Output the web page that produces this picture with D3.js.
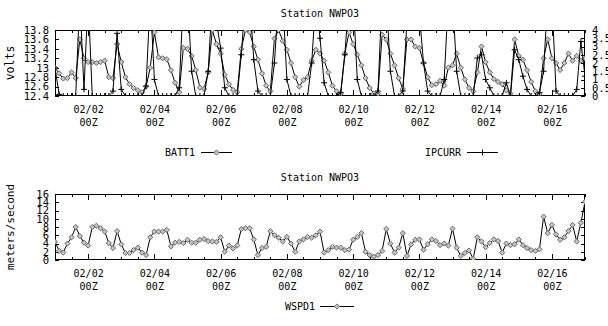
<!DOCTYPE html>
<html>
<head>
<meta charset="utf-8">
<script src="https://cdn.jsdelivr.net/npm/d3@7"></script>
<style>
  body { margin: 0; background: #fff; }
  svg text { font-family: "DejaVu Sans Mono", monospace; font-size: 10px; fill: #000; }
</style>
</head>
<body>
<div id="chart"></div>
<script>
// samples every 3 hours, starting 02/01 00Z
const startTime = Date.UTC(2006, 1, 1, 0);
const stepHours = 3;

const batt1 = [
  13.0, 12.88, 12.77, 12.78, 12.9, 12.78, 13.6, 13.2, 13.12, 13.12, 13.1, 13.12, 13.15, 12.8, 12.78, 13.5,
  13.12, 12.8, 12.65, 12.57, 12.52, 12.48, 12.6, 13.0, 13.75, 13.22, 13.2, 13.18, 12.95, 12.68, 12.48, 13.42,
  13.4, 13.25, 12.95, 12.58, 12.55, 12.9, 13.8, 13.5, 13.3, 12.85, 12.65, 12.53, 12.48, 13.4, 13.8, 13.75,
  13.45, 13.17, 12.88, 12.62, 12.5, 13.62, 13.8, 13.57, 13.38, 13.1, 12.8, 12.6, 12.74, 12.8, 13.15, 13.38,
  13.3, 13.15, 12.9, 12.62, 12.5, 12.45, 13.3, 13.75, 13.5, 13.28, 13.05, 12.78, 12.57, 12.45, 12.45, 13.7,
  13.6, 13.3, 13.05, 12.78, 12.55, 13.6, 13.6, 13.45, 13.42, 13.1, 12.8, 12.63, 12.65, 12.72, 12.62, 13.0,
  13.05, 13.3, 13.0, 12.75, 12.57, 12.5, 12.9, 13.45, 13.12, 12.9, 12.76, 12.7, 12.65, 12.52, 12.45, 13.6,
  13.25, 13.17, 12.95, 12.7, 12.5, 12.45, 13.2, 13.6, 13.2, 13.1, 12.95, 13.1, 13.3, 13.15, 13.25, 13.15,
  13.2
];

const ipcurr = [
  1.7, 0.1, 0, 0, 0, 0, 6, 0.4, 6, 0, 0, 0, 0, 0, 0.3, 3.8,
  0.4, 0, 0, 0, 0, 0, 0.6, 6, 1.0, 0, 0, 0, 0, 0, 0.5, 6,
  6, 1.5, 0, 0, 0, 1.5, 6, 4.5, 2.9, 0.5, 0, 0, 0, 2.5, 6, 6,
  2.2, 0.3, 0, 0, 0, 2.0, 6, 6, 1.0, 0, 0, 0, 0, 0, 2.0, 6,
  3.5, 0.8, 0, 0, 0, 0.2, 2.5, 6, 6, 1.0, 0, 0, 0, 0, 0.3, 6,
  6, 1.5, 0, 0, 0.3, 4.5, 6, 6, 5, 2.0, 0.3, 0, 0, 0, 1.0, 6,
  6, 1.5, 0, 0, 0, 0, 2.3, 2.5, 1.0, 0.5, 0, 0, 0, 0.8, 0, 2.8,
  2.2, 1.2, 0.4, 0, 0, 0.2, 1.5, 6, 6, 0.3, 0, 0, 0, 0, 0.4, 3.3,
  1.2
];

const wspd1 = [
  4.4, 2.2, 1.8, 4.0, 5.5, 8.0, 5.8, 4.2, 3.5, 8.0, 8.3, 7.7, 6.9, 4.1, 2.9, 7.0,
  3.8, 1.7, 1.7, 2.4, 3.0, 1.8, 1.2, 5.5, 6.9, 6.9, 6.9, 7.3, 3.3, 4.2, 4.4, 4.1,
  4.9, 4.2, 4.2, 4.9, 5.1, 4.6, 4.5, 4.4, 5.5, 2.0, 3.5, 2.8, 3.5, 7.5, 7.7, 7.7,
  5.0, 1.2, 2.9, 3.2, 7.0, 6.0, 5.4, 4.5, 5.6, 4.0, 2.0, 4.5, 5.0, 5.6, 5.4, 6.0,
  6.9, 1.8, 2.4, 3.2, 3.0, 3.0, 2.4, 2.5, 4.9, 5.6, 6.5, 2.0, 1.2, 0.8, 1.2, 2.2,
  7.5, 4.0, 1.8, 3.0, 6.5, 1.0, 3.8, 4.9, 5.0, 2.5, 3.8, 5.0, 4.6, 3.6, 4.0, 3.5,
  7.6, 3.0, 1.0, 1.7, 2.3, 0.3, 5.5, 4.5, 3.1, 4.1, 5.0, 4.6, 1.8, 4.0, 3.6, 3.8,
  5.0, 3.6, 2.9, 2.4, 2.2, 2.6, 10.5, 6.5, 8.5, 6.2, 4.9, 5.5, 7.0, 8.5, 4.5, 9.0,
  14.1
];

const voltTicks = [12.4, 12.6, 12.8, 13, 13.2, 13.4, 13.6, 13.8];
const ampTicks = [0, 0.5, 1, 1.5, 2, 2.5, 3, 3.5, 4];
const windTicks = [0, 2, 4, 6, 8, 10, 12, 14, 16];
const dayLabels = ['02/02', '02/04', '02/06', '02/08', '02/10', '02/12', '02/14', '02/16'];

const W = 608, H = 326;
const left = 55, right = 585;

const svg = d3.select('#chart').append('svg')
  .attr('width', W)
  .attr('height', H)
  .attr('viewBox', `0 0 ${W} ${H}`);

const times = batt1.map((_, i) => new Date(startTime + i * stepHours * 3600e3));

const x = d3.scaleUtc()
  .domain([new Date(Date.UTC(2006, 1, 1)), new Date(Date.UTC(2006, 1, 17))])
  .range([left, right]);

const majorDates = dayLabels.map((d) => {
  const [m, day] = d.split('/').map(Number);
  return new Date(Date.UTC(2006, m - 1, day));
});

const diamond = 'M0,-2.6L2.6,0L0,2.6L-2.6,0Z';
const plus = 'M-3,0H3M0,-3V3';

// draws frame, time ticks and the title for one panel
const drawPanel = (top, bottom, title, id) => {
  const g = svg.append('g');

  svg.append('clipPath').attr('id', id)
    .append('rect')
    .attr('x', left).attr('y', top)
    .attr('width', right - left).attr('height', bottom - top);

  // minor ticks, every 12 hours
  g.append('g').attr('transform', `translate(0,${bottom})`)
    .call(d3.axisBottom(x).ticks(d3.utcHour.every(12)).tickSize(-3).tickFormat(''));
  g.append('g').attr('transform', `translate(0,${top})`)
    .call(d3.axisTop(x).ticks(d3.utcHour.every(12)).tickSize(-3).tickFormat(''));

  // major ticks with two line labels
  const xb = g.append('g').attr('transform', `translate(0,${bottom})`)
    .call(d3.axisBottom(x).tickValues(majorDates).tickSize(-6).tickPadding(8)
      .tickFormat((d, i) => dayLabels[i]));
  xb.selectAll('.tick text').each(function (d, i) {
    const t = d3.select(this).text(null).attr('dy', null).attr('y', 17);
    t.append('tspan').attr('x', 0).text(dayLabels[i]);
    t.append('tspan').attr('x', 0).attr('dy', 13).text('00Z');
  });
  g.append('g').attr('transform', `translate(0,${top})`)
    .call(d3.axisTop(x).tickValues(majorDates).tickSize(-6).tickFormat(''));

  g.selectAll('.domain').remove();
  g.selectAll('.tick line').attr('stroke', '#000').attr('shape-rendering', 'crispEdges');

  svg.append('rect')
    .attr('x', left + 0.5).attr('y', top + 0.5)
    .attr('width', right - left - 1).attr('height', bottom - top - 1)
    .attr('fill', 'none').attr('stroke', '#000')
    .attr('shape-rendering', 'crispEdges');

  svg.append('text')
    .attr('x', (left + right) / 2).attr('y', top - 13)
    .attr('text-anchor', 'middle')
    .text(title);
};

const yAxisStyle = (sel) => {
  sel.select('.domain').remove();
  sel.selectAll('.tick line').attr('stroke', '#000').attr('shape-rendering', 'crispEdges');
  sel.selectAll('.tick text').style('font-family', '"DejaVu Sans Mono", monospace').style('font-size', '10.5px');
};

const drawSeries = (values, y, clipId, marker, markerStyle) => {
  const g = svg.append('g').attr('clip-path', `url(#${clipId})`);
  const pts = values.map((v, i) => [times[i], v]);
  g.append('path')
    .datum(pts)
    .attr('fill', 'none')
    .attr('stroke', '#000')
    .attr('stroke-width', 1)
    .attr('d', d3.line().x((d) => x(d[0])).y((d) => y(d[1])));
  g.selectAll('path.pt')
    .data(pts)
    .join('path')
    .attr('class', 'pt')
    .attr('transform', (d) => `translate(${x(d[0])},${y(d[1])})`)
    .attr('d', marker)
    .call(markerStyle);
};

const diamondStyle = (s) => s.attr('fill', '#c4c4c4').attr('stroke', '#6a6a6a').attr('stroke-width', 1);
const plusStyle = (s) => s.attr('fill', 'none').attr('stroke', '#000').attr('stroke-width', 1);

const legendItem = (lx, ly, label, lineX0, lineX1, marker, markerStyle) => {
  svg.append('text').attr('x', lx).attr('y', ly + 4).text(label);
  svg.append('line')
    .attr('x1', lineX0).attr('x2', lineX1).attr('y1', ly + 0.5).attr('y2', ly + 0.5)
    .attr('stroke', '#000');
  svg.append('path')
    .attr('transform', `translate(${(lineX0 + lineX1) / 2},${ly + 0.5})`)
    .attr('d', marker)
    .call(markerStyle);
};

// ---- top panel: battery volts and charging current
const t0 = 30, t1 = 96;
const yV = d3.scaleLinear().domain([12.4, 13.8]).range([t1, t0]);
const yA = d3.scaleLinear().domain([0, 4]).range([t1, t0]);

drawPanel(t0, t1, 'Station NWPO3', 'clipTop');

svg.append('g').attr('transform', `translate(${left},0)`)
  .call(d3.axisLeft(yV).tickValues(voltTicks).tickSize(-4).tickPadding(6).tickFormat(d3.format('~g')))
  .call(yAxisStyle);
svg.append('g').attr('transform', `translate(${right},0)`)
  .call(d3.axisRight(yA).tickValues(ampTicks).tickSize(-4).tickPadding(7).tickFormat(d3.format('~g')))
  .call(yAxisStyle);

svg.append('text')
  .attr('transform', `translate(14,${(t0 + t1) / 2}) rotate(-90)`)
  .attr('text-anchor', 'middle')
  .style('font-size', '11.5px')
  .text('volts');

drawSeries(batt1, yV, 'clipTop', diamond, diamondStyle);
drawSeries(ipcurr, yA, 'clipTop', plus, plusStyle);

legendItem(165, 152, 'BATT1', 201, 232, diamond, diamondStyle);
legendItem(425, 152, 'IPCURR', 467, 498, plus, plusStyle);

// ---- bottom panel: wind speed
const b0 = 194, b1 = 260;
const yW = d3.scaleLinear().domain([0, 16]).range([b1, b0]);

drawPanel(b0, b1, 'Station NWPO3', 'clipBottom');

svg.append('g').attr('transform', `translate(${left},0)`)
  .call(d3.axisLeft(yW).tickValues(windTicks).tickSize(-4).tickPadding(6))
  .call(yAxisStyle);
svg.append('g').attr('transform', `translate(${right},0)`)
  .call(d3.axisRight(yW).tickValues(windTicks).tickSize(-4).tickFormat(''))
  .call(yAxisStyle);

svg.append('text')
  .attr('transform', `translate(14,${(b0 + b1) / 2}) rotate(-90)`)
  .attr('text-anchor', 'middle')
  .style('font-size', '11px')
  .text('meters/second');

drawSeries(wspd1, yW, 'clipBottom', diamond, diamondStyle);

legendItem(285, 306, 'WSPD1', 320, 354, diamond, diamondStyle);
</script>
</body>
</html>
